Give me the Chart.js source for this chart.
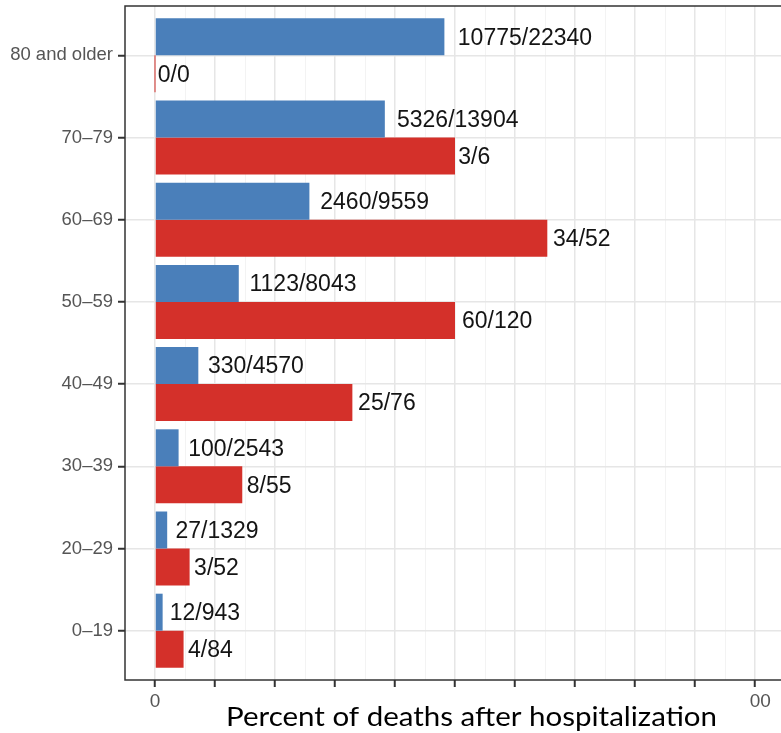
<!DOCTYPE html>
<html>
<head>
<meta charset="utf-8">
<title>Percent of deaths after hospitalization</title>
<script src="https://cdn.jsdelivr.net/npm/chart.js@4.4.1/dist/chart.umd.min.js"></script>
<style>
  html, body { margin: 0; padding: 0; background: #ffffff; overflow: hidden; }
  #wrap { width: 781px; height: 733px; overflow: hidden; position: relative; }
  canvas { display: block; }
</style>
</head>
<body>
<div id="wrap"><canvas id="chart" width="800" height="733" style="width:800px;height:733px"></canvas></div>
<script>
// Age groups, top to bottom
const ageGroups = ['80 and older', '70–79', '60–69', '50–59', '40–49', '30–39', '20–29', '0–19'];

// Blue series: deaths / hospitalized
const blueDeaths = [10775, 5326, 2460, 1123, 330, 100, 27, 12];
const blueTotals = [22340, 13904, 9559, 8043, 4570, 2543, 1329, 943];

// Red series: deaths / hospitalized
const redDeaths = [0, 3, 34, 60, 25, 8, 3, 4];
const redTotals = [0, 6, 52, 120, 76, 55, 52, 84];

// Percent axis ticks (major every 10, minor every 5)
const majorTicks = [0, 10, 20, 30, 40, 50, 60, 70, 80, 90, 100];
const shownTickLabels = { 0: '0', 100: '  00' };

const axisTitle = 'Percent of deaths after hospitalization';

const pct = (d, t) => (t > 0 ? (d / t) * 100 : 0);
const toPoints = (deaths, totals) => deaths.map((d, i) => ({ x: pct(d, totals[i]), y: i, label: d + '/' + totals[i] }));

const BLUE = '#4a7fba';
const RED = '#d4302a';

// Value labels to the right of each bar, nudged by a tenth of their own width
const barLabels = {
  id: 'barLabels',
  afterDatasetsDraw(chart) {
    const ctx = chart.ctx;
    ctx.save();
    ctx.font = '23px "Liberation Sans", Arial, sans-serif';
    ctx.fillStyle = '#141414';
    ctx.textBaseline = 'middle';
    ctx.textAlign = 'left';
    chart.data.datasets.forEach((ds, di) => {
      const meta = chart.getDatasetMeta(di);
      meta.data.forEach((el, i) => {
        const text = ds.data[i].label;
        const w = ctx.measureText(text).width;
        const x = el.x + w * 0.1;
        ctx.save();
        ctx.translate(x, el.y + 1);
        ctx.scale(1, 1.08);
        ctx.fillText(text, 0, 0);
        ctx.restore();
      });
    });
    ctx.restore();
  }
};

// Panel frame and axis title
const frame = {
  id: 'frame',
  afterDraw(chart) {
    const { ctx, chartArea: a } = chart;
    ctx.save();
    ctx.strokeStyle = '#333333';
    ctx.lineWidth = 1.5;
    ctx.strokeRect(a.left, a.top, a.right - a.left, a.bottom - a.top);

    ctx.font = '26.5px Lato, "Open Sans", sans-serif';
    ctx.fillStyle = '#000000';
    ctx.textBaseline = 'alphabetic';
    ctx.textAlign = 'left';
    const w = ctx.measureText(axisTitle).width;
    const target = 491;
    ctx.translate(226, 726);
    ctx.scale(target / w, 1);
    ctx.fillText(axisTitle, 0, 0);
    ctx.restore();
  }
};

new Chart(document.getElementById('chart'), {
  type: 'bar',
  data: {
    datasets: [
      {
        data: toPoints(blueDeaths, blueTotals),
        backgroundColor: BLUE,
        borderWidth: 0,
        categoryPercentage: 0.9,
        barPercentage: 1.0
      },
      {
        data: toPoints(redDeaths, redTotals),
        backgroundColor: RED,
        borderWidth: 0,
        minBarLength: 1,
        categoryPercentage: 0.9,
        barPercentage: 1.0
      }
    ]
  },
  options: {
    indexAxis: 'y',
    responsive: false,
    animation: false,
    devicePixelRatio: 1,
    layout: { padding: { top: 6, left: 0, right: 0, bottom: 0 } },
    plugins: {
      legend: { display: false },
      tooltip: { enabled: false },
      title: { display: false }
    },
    scales: {
      x: {
        type: 'linear',
        position: 'bottom',
        min: -5,
        max: 107.5,
        offset: false,
        afterBuildTicks(scale) {
          const t = [];
          for (let v = 0; v <= 105; v += 5) t.push({ value: v });
          scale.ticks = t;
        },
        afterFit(scale) {
          scale.height = 53;
          scale.paddingLeft = 0;
          scale.paddingRight = 0;
        },
        border: { display: false },
        grid: {
          offset: false,
          color: (c) => (c.tick && c.tick.value % 10 === 0 ? '#e6e6e6' : '#f3f3f3'),
          lineWidth: (c) => (c.tick && c.tick.value % 10 === 0 ? 1.5 : 1),
          tickColor: (c) => (c.tick && majorTicks.includes(c.tick.value) ? '#333333' : 'rgba(0,0,0,0)'),
          tickLength: 7,
          tickWidth: 2
        },
        ticks: {
          autoSkip: false,
          maxRotation: 0,
          padding: 3,
          color: '#555555',
          font: { family: '"Liberation Sans", Arial, sans-serif', size: 19 },
          callback: (v) => (shownTickLabels[v] !== undefined ? shownTickLabels[v] : '')
        }
      },
      y: {
        type: 'linear',
        reverse: true,
        min: -0.6,
        max: 7.6,
        offset: false,
        afterBuildTicks(scale) {
          scale.ticks = ageGroups.map((_, i) => ({ value: i }));
        },
        afterFit(scale) {
          scale.width = 125;
          scale.paddingTop = 0;
          scale.paddingBottom = 0;
        },
        border: { display: false },
        grid: {
          offset: false,
          color: '#e6e6e6',
          lineWidth: 1.5,
          tickColor: '#333333',
          tickLength: 7,
          tickWidth: 2
        },
        ticks: {
          autoSkip: false,
          padding: 5,
          color: '#555555',
          font: { family: '"Liberation Sans", Arial, sans-serif', size: 18.5 },
          callback: (v) => ageGroups[v]
        }
      }
    }
  },
  plugins: [barLabels, frame]
});
</script>
</body>
</html>
